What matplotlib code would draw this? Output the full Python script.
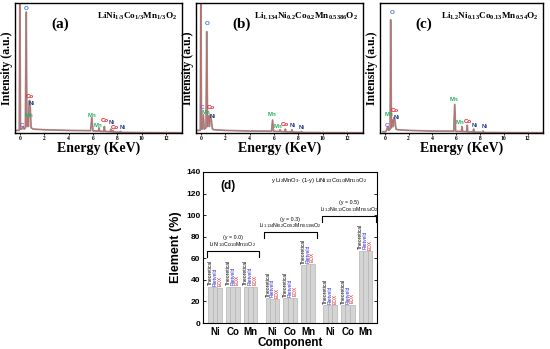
import matplotlib
matplotlib.use("Agg")
import matplotlib.pyplot as plt
import numpy as np

plt.rcParams["mathtext.fontset"] = "custom"
plt.rcParams["mathtext.rm"] = "Liberation Sans"
plt.rcParams["mathtext.it"] = "Liberation Sans:italic"
plt.rcParams["mathtext.bf"] = "Liberation Serif:bold"

SERIF = "Liberation Serif"
SANS = "Liberation Sans"

# ---------------------------------------------------------------------------
# EDX spectra (energy in keV, intensity normalised to the panel height)
# ---------------------------------------------------------------------------
a_energy = [-0.35, -0.05, 0.0, 0.05, 0.15, 0.27, 0.35, 0.45, 0.52, 0.58, 0.62,
            0.65, 0.70, 0.76, 0.80, 0.85, 0.92, 1.1, 2.0, 4.0, 5.8, 5.9, 6.0,
            6.45, 6.49, 6.55, 6.88, 6.93, 6.98, 7.42, 7.47, 7.52, 7.6, 7.65,
            7.7, 8.22, 8.26, 8.3, 10.0, 13.3]
a_counts = [0.02, 0.02, 1.05, 0.03, 0.03, 0.05, 0.03, 0.04, 0.93, 0.05, 0.10,
            0.12, 0.05, 0.24, 0.25, 0.20, 0.04, 0.03, 0.025, 0.02, 0.018, 0.12,
            0.016, 0.015, 0.04, 0.014, 0.012, 0.05, 0.012, 0.01, 0.03, 0.009,
            0.009, 0.02, 0.008, 0.006, 0.012, 0.005, 0.003, 0.002]

b_energy = [-0.35, -0.05, 0.0, 0.05, 0.12, 0.2, 0.28, 0.42, 0.48, 0.55, 0.60,
            0.65, 0.70, 0.76, 0.80, 0.86, 0.95, 1.1, 2.0, 4.0, 5.8, 5.88, 5.96,
            6.45, 6.49, 6.55, 6.88, 6.93, 6.98, 7.42, 7.47, 7.52, 8.22, 8.26,
            8.3, 10.0, 13.3]
b_counts = [0.02, 0.02, 1.05, 0.03, 0.03, 0.14, 0.03, 0.04, 0.78, 0.05, 0.12,
            0.13, 0.05, 0.14, 0.13, 0.10, 0.03, 0.025, 0.02, 0.015, 0.014, 0.10,
            0.013, 0.012, 0.025, 0.011, 0.01, 0.03, 0.009, 0.008, 0.025, 0.007,
            0.005, 0.012, 0.004, 0.003, 0.002]

c_energy = [-0.15, 0.05, 0.15, 0.25, 0.35, 0.45, 0.50, 0.56, 0.62, 0.66, 0.72,
            0.78, 0.83, 0.88, 0.95, 1.1, 2.0, 4.0, 5.8, 5.88, 5.96, 6.45, 6.49,
            6.55, 6.88, 6.93, 6.98, 7.42, 7.47, 7.52, 8.22, 8.26, 8.3, 10.0,
            13.3]
c_counts = [0.01, 0.01, 0.02, 0.05, 0.02, 0.03, 0.87, 0.04, 0.09, 0.10, 0.05,
            0.12, 0.11, 0.08, 0.03, 0.025, 0.02, 0.015, 0.014, 0.22, 0.013,
            0.012, 0.05, 0.011, 0.01, 0.06, 0.009, 0.008, 0.03, 0.007, 0.005,
            0.015, 0.004, 0.003, 0.002]

# element labels: (text, energy, height, colour key)
a_labels = [("O", 0.53, 0.94, "O"), ("Co", 0.8, 0.26, "Co"), ("Ni", 0.95, 0.21, "Ni"),
            ("Mn", 0.75, 0.115, "Mn"), ("C", 0.16, 0.04, "C"), ("Mn", 5.9, 0.115, "Mn"),
            ("Mn", 6.45, 0.04, "Mn"), ("Co", 6.95, 0.08, "Co"), ("Ni", 7.5, 0.06, "Ni"),
            ("Co", 7.75, 0.02, "Co"), ("Ni", 8.4, 0.025, "Ni")]
b_labels = [("O", 0.5, 0.82, "O"), ("C", 0.1, 0.18, "C"), ("Co", 0.85, 0.175, "Co"),
            ("Mn", 0.45, 0.14, "Mn"), ("Ni", 1.0, 0.11, "Ni"), ("Mn", 5.86, 0.12, "Mn"),
            ("Mn", 6.3, 0.03, "Mn"), ("Co", 6.9, 0.05, "Co"), ("Ni", 7.55, 0.04, "Ni"),
            ("Ni", 8.3, 0.02, "Ni")]
c_labels = [("O", 0.6, 0.91, "O"), ("Co", 0.86, 0.155, "Co"), ("Mn", 0.35, 0.12, "Mn"),
            ("Ni", 1.0, 0.10, "Ni"), ("C", 0.2, 0.04, "C"), ("Mn", 5.85, 0.24, "Mn"),
            ("Mn", 6.35, 0.06, "Mn"), ("Co", 7.0, 0.07, "Co"), ("Ni", 7.6, 0.04, "Ni"),
            ("Ni", 8.4, 0.03, "Ni")]

a_formula = r"LiNi$_{\mathbf{1/3}}$Co$_{\mathbf{1/3}}$Mn$_{\mathbf{1/3}}$O$_{\mathbf{2}}$"
b_formula = r"Li$_{\mathbf{1.134}}$Ni$_{\mathbf{0.2}}$Co$_{\mathbf{0.2}}$Mn$_{\mathbf{0.5386}}$O$_{\mathbf{2}}$"
c_formula = r"Li$_{\mathbf{1.2}}$Ni$_{\mathbf{0.13}}$Co$_{\mathbf{0.13}}$Mn$_{\mathbf{0.54}}$O$_{\mathbf{2}}$"

ELEMENT_COLORS = {"O": "#3a6fd8", "C": "#8a5cc8", "Co": "#e8202a",
                  "Ni": "#1f3a8a", "Mn": "#22b060"}

# ---------------------------------------------------------------------------
# Element composition bars (%)
# ---------------------------------------------------------------------------
components = ["Ni", "Co", "Mn", "Ni", "Co", "Mn", "Ni", "Co", "Mn"]
theoretical = [33.3, 33.3, 33.3, 23.0, 23.0, 53.5, 16.3, 16.3, 67.0]
rietveld = [33.0, 33.5, 33.3, 22.4, 23.0, 54.3, 16.3, 16.3, 67.0]
edx = [32.8, 33.8, 33.6, 21.8, 23.3, 54.8, 16.3, 16.8, 66.5]
methods = ["Theoretical", "Rietveld", "EDX"]
method_colors = ["black", "#2a2ad0", "#e02020"]

groups_y = ["(y = 0.0)", "(y = 0.3)", "(y = 0.5)"]
groups_formula = [
    r"LiNi$_{1/3}$Co$_{1/3}$Mn$_{1/3}$O$_2$",
    r"Li$_{1.134}$Ni$_{0.2}$Co$_{0.2}$Mn$_{0.5386}$O$_2$",
    r"Li$_{1.2}$Ni$_{0.13}$Co$_{0.13}$Mn$_{0.54}$O$_2$",
]

# ---------------------------------------------------------------------------
W, H = 550, 349
fig = plt.figure(figsize=(W / 100, H / 100), dpi=100)


def px_axes(left, top, width, height):
    return fig.add_axes([left / W, 1 - (top + height) / H, width / W, height / H])


def spectrum_panel(ax, energy, counts, labels, formula, tag):
    ax.plot(energy, counts, color="#9a9a9a", lw=1.3)
    ax.plot(energy, counts, color="#c06a6a", lw=0.6)
    for txt, x, y, key in labels:
        ax.text(x, y, txt, color=ELEMENT_COLORS[key], fontsize=4.4,
                fontweight="bold", family=SANS, ha="center", va="bottom")
    ax.set_xlim(-0.4, 13.3)
    ax.set_ylim(0, 1)
    ax.set_xticks(range(0, 13, 2))
    ax.set_yticks([])
    ax.tick_params(axis="x", length=1.5, width=0.6, pad=1, labelsize=4)
    for lab in ax.get_xticklabels():
        lab.set_family(SERIF)
        lab.set_fontweight("bold")
    for sp in ax.spines.values():
        sp.set_linewidth(1.0)
    ax.text(0.97, 0.9, formula, transform=ax.transAxes, ha="right", va="center",
            family=SERIF, fontweight="bold", fontsize=6.6)
    ax.text(0.22, 0.84, tag, transform=ax.transAxes, ha="left", va="center",
            family=SERIF, fontweight="bold", fontsize=11)
    ax.set_xlabel("Energy (KeV)", family=SERIF, fontweight="bold", fontsize=10,
                  labelpad=0)
    ax.set_ylabel("Intensity (a.u.)", family=SERIF, fontweight="bold", fontsize=8.5,
                  labelpad=1.5)


ax_a = px_axes(15, 3, 167, 130)
ax_b = px_axes(196, 3, 167, 130)
ax_c = px_axes(380, 3, 163, 130)
spectrum_panel(ax_a, a_energy, a_counts, a_labels, a_formula, "(a)")
spectrum_panel(ax_b, b_energy, b_counts, b_labels, b_formula, "(b)")
spectrum_panel(ax_c, c_energy, c_counts, c_labels, c_formula, "(c)")

# ---- bar panel ----
ax = px_axes(203, 172, 174, 151)
x = np.array([0, 1, 2, 3.25, 4.25, 5.25, 6.5, 7.5, 8.5])
sub_w = 0.26
series = [theoretical, rietveld, edx]
for k, vals in enumerate(series):
    xs = x + (k - 1) * sub_w
    ax.bar(xs, vals, width=sub_w, color="#d4d4d4", edgecolor="#b4b4b4", lw=0.5)
    for xi, v in zip(xs, vals):
        ax.text(xi, v + 1.5, methods[k], rotation=90, ha="center", va="bottom",
                fontsize=3.6, family=SANS, color=method_colors[k])

ax.set_xlim(-0.68, 9.15)
ax.set_ylim(0, 140)
ax.set_yticks(range(0, 141, 20))
ax.set_xticks(x)
ax.set_xticklabels(components, fontsize=7, fontweight="bold", family=SANS)
ax.tick_params(axis="x", length=0, pad=3)
ax.tick_params(axis="y", direction="in", length=2, width=0.6, right=True,
               labelsize=6, pad=2)
for lab in ax.get_yticklabels():
    lab.set_fontweight("bold")
    lab.set_family(SANS)
for sp in ax.spines.values():
    sp.set_linewidth(0.8)
ax.set_xlabel("Component", fontsize=8.5, fontweight="bold", family=SANS, labelpad=0)
ax.set_ylabel("Element (%)", fontsize=9, fontweight="bold", family=SANS, labelpad=3)

# group brackets
bracket_x0 = [-0.47, 2.77, 6.03]
bracket_x1 = [2.49, 5.74, 9.08]
bracket_y = [67, 84.4, 99.4]
for i in range(3):
    y0 = bracket_y[i]
    ax.plot([bracket_x0[i], bracket_x0[i], bracket_x1[i], bracket_x1[i]],
            [y0 - 5.5, y0, y0, y0 - 5.5], color="black", lw=0.8)
    xm = (bracket_x0[i] + bracket_x1[i]) / 2
    ax.text(xm, y0 + 12, groups_y[i], ha="center", va="center", fontsize=3.8,
            family=SANS)
    ax.text(xm, y0 + 6, groups_formula[i], ha="center", va="center", fontsize=3.8,
            family=SANS)

ax.text(0.28, 127, "(d)", fontsize=8.5, fontweight="bold", family=SANS,
        ha="left", va="center")
ax.text(5.9, 132.5, r"y Li$_2$MnO$_3$· (1-y) LiNi$_{1/3}$Co$_{1/3}$Mn$_{1/3}$O$_2$",
        fontsize=4.2, family=SANS, ha="center", va="center")

fig.savefig("out.png", dpi=100)
